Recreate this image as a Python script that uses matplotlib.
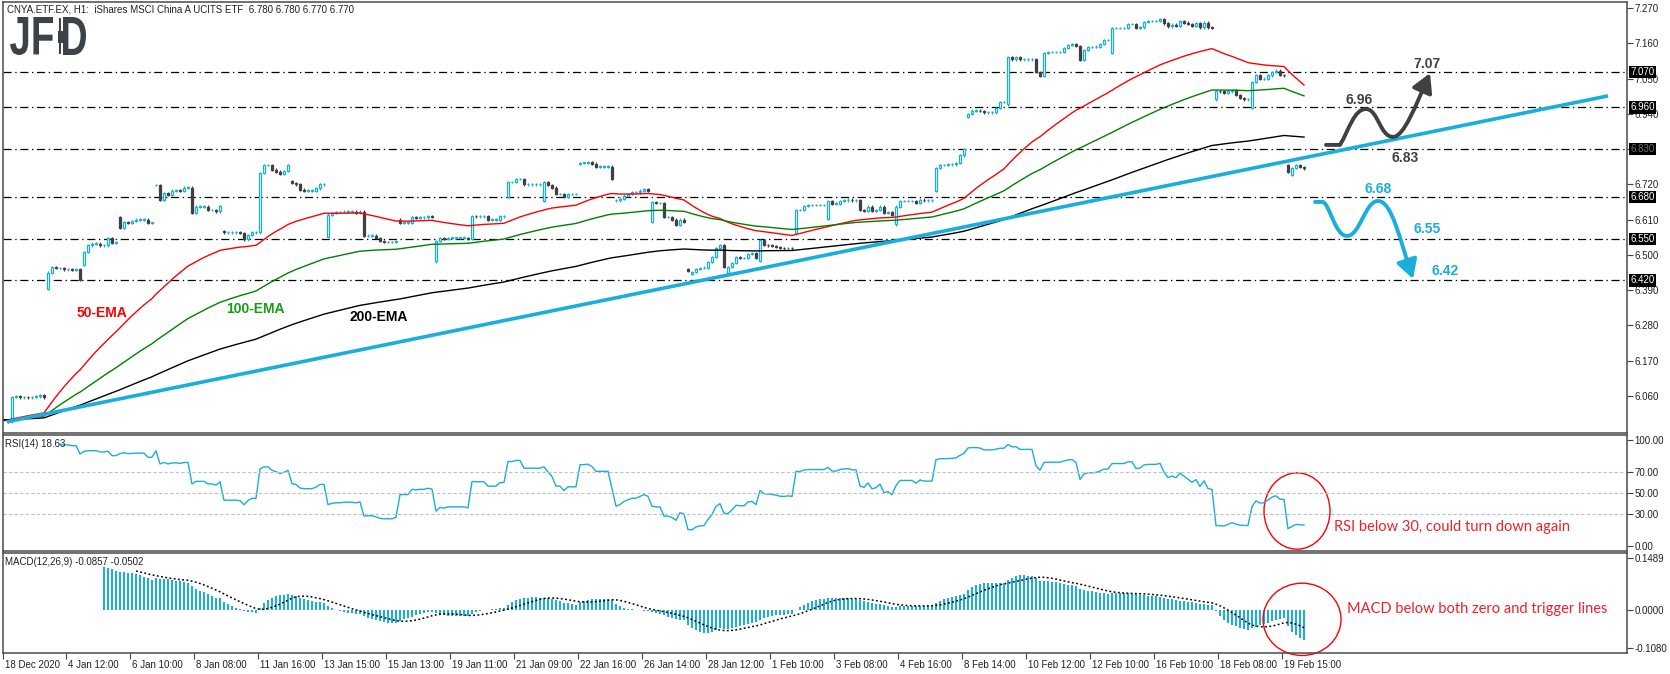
import numpy as np
import pandas as pd
import matplotlib
matplotlib.use("Agg")
import matplotlib.pyplot as plt
from matplotlib.patches import Ellipse, FancyArrowPatch, PathPatch, Rectangle
from matplotlib.path import Path
from matplotlib.textpath import TextPath
from matplotlib.font_manager import FontProperties
from matplotlib.transforms import Affine2D, ScaledTranslation

plt.rcParams['font.family'] = ['Liberation Sans', 'DejaVu Sans']

BLUE = '#19aedb'
DARK = '#404040'
RED_TXT = '#f0202a'

# hourly closes of CNYA.ETF.EX (bar 0 = 18 Dec 2020)
closes = [
    5.985, 5.980, 6.057, 6.058, 6.055, 6.057, 6.055, 6.057, 6.058, 6.062, 6.055,
    6.444, 6.462, 6.459, 6.459, 6.455, 6.455, 6.452, 6.455, 6.422, 6.509,
    6.530, 6.535, 6.535, 6.530, 6.530, 6.553, 6.537, 6.540, 6.584, 6.603,
    6.600, 6.605, 6.610, 6.610, 6.610, 6.600, 6.600, 6.718, 6.671, 6.693,
    6.687, 6.700, 6.702, 6.700, 6.710, 6.710, 6.632, 6.650, 6.650, 6.650,
    6.640, 6.640, 6.636, 6.652, 6.570, 6.570, 6.570, 6.570, 6.568, 6.548,
    6.562, 6.570, 6.570, 6.755, 6.780, 6.780, 6.766, 6.760, 6.753, 6.762,
    6.780, 6.724, 6.720, 6.703, 6.700, 6.700, 6.700, 6.707, 6.720, 6.720,
    6.625, 6.631, 6.633, 6.633, 6.635, 6.635, 6.635, 6.632, 6.635, 6.559,
    6.560, 6.560, 6.553, 6.543, 6.540, 6.540, 6.540, 6.543, 6.600, 6.600,
    6.600, 6.617, 6.615, 6.617, 6.617, 6.620, 6.618, 6.543, 6.553, 6.550,
    6.553, 6.553, 6.553, 6.553, 6.553, 6.550, 6.621, 6.620, 6.620, 6.620,
    6.610, 6.610, 6.610, 6.620, 6.620, 6.727, 6.727, 6.737, 6.737, 6.720,
    6.720, 6.720, 6.720, 6.720, 6.727, 6.718, 6.710, 6.690, 6.690, 6.680,
    6.690, 6.690, 6.690, 6.787, 6.787, 6.790, 6.785, 6.775, 6.775, 6.775,
    6.775, 6.737, 6.670, 6.675, 6.685, 6.690, 6.695, 6.695, 6.700, 6.705,
    6.700, 6.665, 6.662, 6.662, 6.618, 6.618, 6.610, 6.593, 6.610, 6.603,
    6.450, 6.447, 6.456, 6.459, 6.460, 6.478, 6.493, 6.521, 6.531, 6.462,
    6.462, 6.475, 6.493, 6.490, 6.490, 6.503, 6.505, 6.490, 6.546, 6.531,
    6.530, 6.528, 6.525, 6.521, 6.520, 6.522, 6.520, 6.640, 6.640, 6.652,
    6.655, 6.655, 6.655, 6.655, 6.655, 6.668, 6.660, 6.660, 6.668, 6.670,
    6.672, 6.670, 6.670, 6.640, 6.637, 6.650, 6.637, 6.640, 6.650, 6.630,
    6.633, 6.625, 6.650, 6.668, 6.668, 6.668, 6.668, 6.663, 6.672, 6.670,
    6.670, 6.670, 6.771, 6.780, 6.780, 6.782, 6.782, 6.787, 6.810, 6.830,
    6.940, 6.950, 6.950, 6.949, 6.945, 6.945, 6.945, 6.958, 6.977, 6.977,
    7.117, 7.110, 7.117, 7.110, 7.110, 7.110, 7.110, 7.070, 7.058, 7.130,
    7.133, 7.133, 7.133, 7.133, 7.145, 7.155, 7.158, 7.152, 7.108, 7.139,
    7.148, 7.148, 7.150, 7.158, 7.170, 7.170, 7.208, 7.208, 7.208, 7.208,
    7.220, 7.220, 7.208, 7.210, 7.227, 7.230, 7.230, 7.230, 7.235, 7.222,
    7.213, 7.218, 7.215, 7.230, 7.225, 7.220, 7.215, 7.222, 7.210, 7.225,
    7.210, 7.208, 7.011, 7.010, 7.005, 7.010, 7.015, 6.999, 6.989, 6.985,
    6.985, 7.039, 7.061, 7.049, 7.050, 7.060, 7.070, 7.075, 7.061, 7.060,
    6.758, 6.771, 6.780, 6.774, 6.770,
]
# bars that opened with a gap (open != previous close)
gap_opens = {11: 6.394, 20: 6.468, 29: 6.618, 38: 6.718, 55: 6.575, 72: 6.730,
             81: 6.555, 99: 6.610, 108: 6.480, 126: 6.680, 135: 6.668, 144: 6.785,
             153: 6.670, 162: 6.603, 171: 6.455, 172: 6.440, 181: 6.444, 189: 6.482,
             198: 6.568, 206: 6.612, 223: 6.595, 233: 6.700, 241: 6.930, 251: 6.970,
             277: 7.130, 303: 6.985, 312: 6.958, 321: 6.780, 322: 6.750}

levels = [7.070, 6.960, 6.830, 6.680, 6.550, 6.420]
price_ticks = [6.060, 6.170, 6.280, 6.390, 6.500, 6.610, 6.720, 6.830, 6.940, 7.050, 7.160, 7.270]
rsi_ticks = [0, 30, 50, 70, 100]
macd_ticks = [-0.1080, 0.0, 0.1489]
date_labels = ['18 Dec 2020', '4 Jan 12:00', '6 Jan 10:00', '8 Jan 08:00', '11 Jan 16:00',
               '13 Jan 15:00', '15 Jan 13:00', '19 Jan 11:00', '21 Jan 09:00', '22 Jan 16:00',
               '26 Jan 14:00', '28 Jan 12:00', '1 Feb 10:00', '3 Feb 08:00', '4 Feb 16:00',
               '8 Feb 14:00', '10 Feb 12:00', '12 Feb 10:00', '16 Feb 10:00', '18 Feb 08:00',
               '19 Feb 15:00']
trend_x = [0.75, 401.0]
trend_y = [5.979, 6.996]

close = pd.Series(closes)
opens = close.shift(1).fillna(close.iloc[0])
for k, v in gap_opens.items():
    opens[k] = v
n = len(close)
x = np.arange(n)
o = opens.values
c = close.values

# indicators
ema50 = close.ewm(span=50, adjust=False).mean()
ema100 = close.ewm(span=100, adjust=False).mean()
ema200 = close.ewm(span=200, adjust=False).mean()

diff = np.diff(c, prepend=c[0])
gain = np.where(diff > 0, diff, 0.0)
loss = np.where(diff < 0, -diff, 0.0)
rsi = np.full(n, np.nan)
ag, al = gain[1:15].mean(), loss[1:15].mean()
rsi[14] = 100 if al == 0 else 100 - 100 / (1 + ag / al)
for k in range(15, n):
    ag = (ag * 13 + gain[k]) / 14
    al = (al * 13 + loss[k]) / 14
    rsi[k] = 100 if al == 0 else 100 - 100 / (1 + ag / al)

macd = close.ewm(span=12, adjust=False).mean() - close.ewm(span=26, adjust=False).mean()
macd[:25] = np.nan
signal = macd.rolling(9).mean()

# figure
W, H = 1670, 674
fig = plt.figure(figsize=(W / 100, H / 100), dpi=100)
left, width = 3 / W, 1624 / W
ax = fig.add_axes([left, 1 - 433 / H, width, 431 / H])
ax_rsi = fig.add_axes([left, 1 - 551 / H, width, 116 / H])
ax_macd = fig.add_axes([left, 1 - 653 / H, width, 100 / H])

for a in (ax, ax_rsi, ax_macd):
    a.set_xlim(-0.25, 405.75)
    for s in a.spines.values():
        s.set_color('#4a4a4a')
        s.set_linewidth(1.1)
    a.yaxis.tick_right()
    a.tick_params(axis='y', direction='out', length=4, width=0.8, colors='#444444',
                  labelsize=7, pad=1.5, labelcolor='#222222')
    a.tick_params(axis='x', bottom=False, labelbottom=False)

# candles
up = c >= o
lo_b = np.minimum(o, c)
hi_b = np.maximum(o, c)
h_b = np.maximum(hi_b - lo_b, 0.0012)
ax.vlines(x[up], lo_b[up] - 0.004, hi_b[up] + 0.004, color=BLUE, lw=0.9, zorder=2)
ax.vlines(x[~up], lo_b[~up] - 0.004, hi_b[~up] + 0.004, color=DARK, lw=0.9, zorder=2)
ax.bar(x[up], h_b[up], bottom=lo_b[up], width=0.7, facecolor='white', edgecolor=BLUE,
       lw=0.9, zorder=3)
ax.bar(x[~up], h_b[~up], bottom=lo_b[~up], width=0.7, color=DARK, edgecolor=DARK,
       lw=0.9, zorder=3)

ax.plot(x, ema50, color='#ff0000', lw=1, zorder=4)
ax.plot(x, ema100, color='#008000', lw=1, zorder=4)
ax.plot(x, ema200, color='black', lw=1, zorder=4)
ax.plot(trend_x, trend_y, color=BLUE, lw=2.6, solid_capstyle='butt', zorder=5)

for lv in levels:
    ax.axhline(lv, color='black', lw=0.9, dashes=(6.5, 2.9, 1.1, 2.9), zorder=1)
    ax.text(1.002, lv, f'{lv:.3f}', transform=ax.get_yaxis_transform(), ha='left',
            va='center', fontsize=7, color='#707070' if lv == 6.830 else 'white',
            bbox=dict(boxstyle='square,pad=0.12', fc='black', ec='none'),
            zorder=10, clip_on=False)

ax.set_ylim(5.944, 7.289)
ax.set_yticks(price_ticks)
# the 6.830 level box sits exactly on that tick, so its plain label is left blank
ax.set_yticklabels(['' if t in levels else f'{t:.3f}' for t in price_ticks])

ax.text(24.6, 6.320, '50-EMA', color='#ff0000', fontsize=10, fontweight='bold',
        ha='center', va='center')
ax.text(62.75, 6.331, '100-EMA', color='#1a9a1a', fontsize=10, fontweight='bold',
        ha='center', va='center')
ax.text(93.75, 6.305, '200-EMA', color='black', fontsize=10, fontweight='bold',
        ha='center', va='center')

# scenario arrows
C4 = Path.CURVE4
up_path = Path([(330.5, 6.843), (334, 6.843),
                (336.25, 6.890), (337.5, 6.955), (340.5, 6.955),
                (343.5, 6.955), (344, 6.868), (347.25, 6.868),
                (350, 6.868), (353, 6.968), (356.5, 7.067)],
               [Path.MOVETO, Path.LINETO, C4, C4, C4, C4, C4, C4, C4, C4, C4])
dn_path = Path([(327.75, 6.665), (329.75, 6.665),
                (331.5, 6.656), (332.75, 6.559), (335.75, 6.559),
                (339, 6.559), (340.25, 6.668), (343.5, 6.668),
                (347, 6.668), (349, 6.546), (352.25, 6.425)],
               [Path.MOVETO, Path.LINETO, C4, C4, C4, C4, C4, C4, C4, C4, C4])
for p, col in ((up_path, DARK), (dn_path, BLUE)):
    ax.add_patch(FancyArrowPatch(path=p, arrowstyle='-|>,head_length=0.8,head_width=0.45',
                                 mutation_scale=14, color=col, lw=2.8, zorder=6))

for tx, ty, s, col in ((338.75, 6.983, '6.96', DARK), (355.75, 7.095, '7.07', DARK),
                       (350.25, 6.802, '6.83', DARK), (343.5, 6.7055, '6.68', BLUE),
                       (355.75, 6.581, '6.55', BLUE), (360.25, 6.450, '6.42', BLUE)):
    ax.text(tx, ty, s, color=col, fontsize=10, fontweight='bold', ha='center', va='center')

# RSI panel
ax_rsi.plot(x, rsi, color=BLUE, lw=1)
for lv in (70, 50, 30):
    ax_rsi.axhline(lv, color='#c0c0c0', lw=0.8, dashes=(3, 2))
ax_rsi.set_ylim(-4.7, 104.7)
ax_rsi.set_yticks(rsi_ticks)
ax_rsi.set_yticklabels([f'{t:.2f}' for t in rsi_ticks])
ax_rsi.add_patch(Ellipse((323.25, 33), 16.5, 72, fill=False, ec='red', lw=1, clip_on=False))
ax_rsi.text(332.5, 18, 'RSI below 30, could turn down again', color=RED_TXT,
            fontsize=10.5, family='Lato', ha='left', va='center')

# MACD panel
ax_macd.bar(x, macd, width=0.3, color=BLUE, lw=0)
ax_macd.plot(x, signal, color='black', lw=1.1, ls=(0, (1.2, 1.6)))
ax_macd.set_ylim(-0.122, 0.163)
ax_macd.set_yticks(macd_ticks)
ax_macd.set_yticklabels([f'{t:.4f}' for t in macd_ticks])
ax_macd.add_patch(Ellipse((324.5, -0.026), 19.5, 0.206, fill=False, ec='red', lw=1,
                          clip_on=False))
ax_macd.text(335.75, 0.003, 'MACD below both zero and trigger lines', color=RED_TXT,
             fontsize=10.5, family='Lato', ha='left', va='center')

# time axis
tick_pos = [max(16 * k - 0.5, -0.2) for k in range(len(date_labels))]
ax_macd.tick_params(axis='x', bottom=True, labelbottom=True, direction='out', length=4,
                    width=0.8, colors='#444444', labelsize=7, labelcolor='#222222', pad=1)
ax_macd.set_xticks(tick_pos)
ax_macd.set_xticklabels(date_labels, ha='left')
for lab in ax_macd.get_xticklabels():
    lab.set_transform(lab.get_transform() + ScaledTranslation(1.5 / 72, 0, fig.dpi_scale_trans))

# header texts
fig.text(7 / W, 1 - 9 / H, 'CNYA.ETF.EX, H1:  iShares MSCI China A UCITS ETF  6.780 6.780 6.770 6.770',
         fontsize=7, ha='left', va='center', color='#222222')
fig.text(5 / W, 1 - 444 / H, 'RSI(14) 18.63', fontsize=7, ha='left', va='center', color='#222222')
fig.text(5 / W, 1 - 562 / H, 'MACD(12,26,9) -0.0857 -0.0502', fontsize=7, ha='left',
         va='center', color='#222222')

# JFD logo (pixel placement)
fp = FontProperties(family='Liberation Sans', weight='bold')
LOGO = '#3d4249'
for s, x0, w in (('JF', 10, 43), ('D', 63, 23)):
    tp = TextPath((0, 0), s, size=100, prop=fp)
    bb = tp.get_extents()
    tr = Affine2D().translate(-bb.x0, -bb.y0).scale(w / bb.width, 38 / bb.height).translate(x0, H - 55)
    fig.add_artist(PathPatch(tp, transform=tr, fc=LOGO, ec='none'))
fig.add_artist(Rectangle((59.3, H - 54), 1.4, 36, transform=Affine2D(), fc=LOGO, ec='none'))
fig.add_artist(Rectangle((57.5, H - 43), 5, 12, transform=Affine2D(), fc=LOGO, ec='none'))

fig.savefig('out.png', dpi=100)
